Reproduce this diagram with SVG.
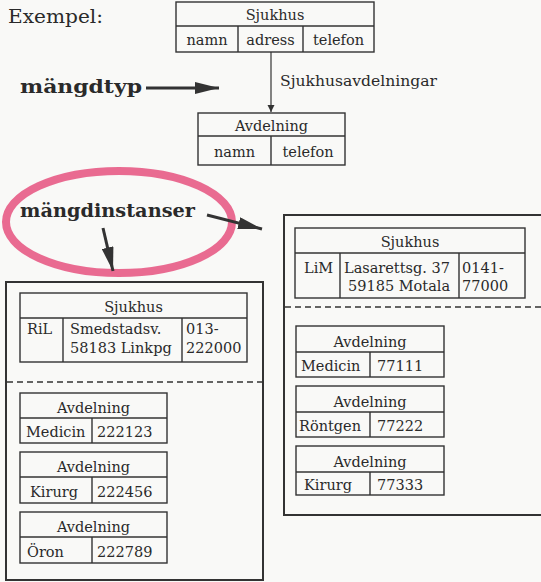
<svg xmlns="http://www.w3.org/2000/svg" width="541" height="582" viewBox="0 0 541 582">
<style>
.t{font-family:"DejaVu Serif","Liberation Serif",serif;font-size:14.5px;fill:#2a2a2a}
.c{text-anchor:middle}
.b{font-family:"DejaVu Serif","Liberation Serif",serif;font-weight:bold;font-size:19px;fill:#2a2a2a}
.box{fill:none;stroke:#333;stroke-width:1.4}
.outer{fill:none;stroke:#333;stroke-width:2}
.dash{stroke:#333;stroke-width:1.4;stroke-dasharray:6 4}
.ln{stroke:#333;stroke-width:1.2;fill:none}
.thick{stroke:#333;stroke-width:3;fill:none}
</style>
<defs>
<marker id="ah" viewBox="0 0 10 10" refX="10" refY="5" markerWidth="7" markerHeight="10" markerUnits="userSpaceOnUse" orient="auto"><path d="M0,0 L10,5 L0,10 z" fill="#333"/></marker>
<marker id="big" viewBox="0 0 10 10" refX="10" refY="5" markerWidth="24" markerHeight="12" markerUnits="userSpaceOnUse" orient="auto" preserveAspectRatio="none"><path d="M0,0 L10,5 L0,10 z" fill="#333"/></marker>
</defs>
<rect width="541" height="582" fill="#f9f9f7"/>

<ellipse cx="119" cy="222" rx="113" ry="51" fill="none" stroke="#e6527f" stroke-width="8" opacity="0.85"/>

<text class="t" x="8" y="23" style="font-size:18px" textLength="95" lengthAdjust="spacingAndGlyphs">Exempel:</text>
<text class="b" x="20" y="93" textLength="122" lengthAdjust="spacingAndGlyphs">mängdtyp</text>
<text class="b" x="20" y="217" textLength="175" lengthAdjust="spacingAndGlyphs">mängdinstanser</text>

<g id="connectors">
<line class="ln" x1="271" y1="52" x2="271" y2="112" marker-end="url(#ah)"/>
<text class="t" x="280" y="86" textLength="157" lengthAdjust="spacingAndGlyphs">Sjukhusavdelningar</text>
<line class="thick" x1="146" y1="88" x2="219" y2="88" marker-end="url(#big)"/>
<line class="thick" x1="207" y1="215" x2="262" y2="229" marker-end="url(#big)"/>
<line class="thick" x1="103" y1="228" x2="113" y2="271" marker-end="url(#big)"/>
</g>

<g id="type-sjukhus">
<rect class="box" x="176" y="2" width="198" height="50"/>
<line class="box" x1="176" y1="26" x2="374" y2="26"/>
<line class="box" x1="238" y1="26" x2="238" y2="52"/>
<line class="box" x1="303" y1="26" x2="303" y2="52"/>
<text class="t c" x="275" y="20">Sjukhus</text>
<text class="t c" x="207" y="45">namn</text>
<text class="t c" x="270.5" y="45">adress</text>
<text class="t c" x="338.5" y="45">telefon</text>
</g>

<g id="type-avdelning">
<rect class="box" x="198" y="113" width="147" height="52"/>
<line class="box" x1="198" y1="136" x2="345" y2="136"/>
<line class="box" x1="271" y1="136" x2="271" y2="165"/>
<text class="t c" x="271.5" y="131">Avdelning</text>
<text class="t c" x="234.5" y="157">namn</text>
<text class="t c" x="308" y="157">telefon</text>
</g>

<g id="instance-ril">
<rect class="outer" x="6" y="282" width="257" height="298"/>
<line class="dash" x1="7" y1="382" x2="262" y2="382"/>
<rect class="box" x="20" y="293" width="227" height="69"/>
<line class="box" x1="20" y1="318" x2="247" y2="318"/>
<line class="box" x1="63" y1="318" x2="63" y2="362"/>
<line class="box" x1="182" y1="318" x2="182" y2="362"/>
<text class="t c" x="133.5" y="312">Sjukhus</text>
<text class="t" x="27" y="334">RiL</text>
<text class="t" x="70" y="334">Smedstadsv.</text>
<text class="t" x="70" y="353">58183 Linkpg</text>
<text class="t" x="186" y="334">013-</text>
<text class="t" x="186" y="353">222000</text>
</g>

<g id="ril-medicin">
<rect class="box" x="20" y="393" width="147" height="50"/>
<line class="box" x1="20" y1="418" x2="167" y2="418"/>
<line class="box" x1="92" y1="418" x2="92" y2="443"/>
<text class="t c" x="93.5" y="413">Avdelning</text>
<text class="t" x="26" y="437">Medicin</text>
<text class="t" x="97" y="437">222123</text>
</g>

<g id="ril-kirurg">
<rect class="box" x="20" y="452" width="147" height="51"/>
<line class="box" x1="20" y1="477" x2="167" y2="477"/>
<line class="box" x1="92" y1="477" x2="92" y2="503"/>
<text class="t c" x="93.5" y="472">Avdelning</text>
<text class="t" x="30" y="497">Kirurg</text>
<text class="t" x="97" y="497">222456</text>
</g>

<g id="ril-oron">
<rect class="box" x="20" y="512" width="147" height="51"/>
<line class="box" x1="20" y1="537" x2="167" y2="537"/>
<line class="box" x1="92" y1="537" x2="92" y2="563"/>
<text class="t c" x="93.5" y="532">Avdelning</text>
<text class="t" x="27" y="557">Öron</text>
<text class="t" x="97" y="557">222789</text>
</g>

<g id="instance-lim">
<rect class="outer" x="284" y="215" width="280" height="300"/>
<line class="dash" x1="285" y1="307" x2="541" y2="307"/>
<rect class="box" x="295" y="228" width="230" height="70"/>
<line class="box" x1="295" y1="253" x2="525" y2="253"/>
<line class="box" x1="340" y1="253" x2="340" y2="298"/>
<line class="box" x1="459" y1="253" x2="459" y2="298"/>
<text class="t c" x="410" y="247">Sjukhus</text>
<text class="t" x="304" y="273">LiM</text>
<text class="t" x="344" y="273">Lasarettsg. 37</text>
<text class="t" x="348" y="291">59185 Motala</text>
<text class="t" x="462" y="273">0141-</text>
<text class="t" x="462" y="291">77000</text>
</g>

<g id="lim-medicin">
<rect class="box" x="296" y="326" width="148" height="51"/>
<line class="box" x1="296" y1="352" x2="444" y2="352"/>
<line class="box" x1="370" y1="352" x2="370" y2="377"/>
<text class="t c" x="370" y="347">Avdelning</text>
<text class="t" x="301" y="371">Medicin</text>
<text class="t" x="377" y="371">77111</text>
</g>

<g id="lim-rontgen">
<rect class="box" x="296" y="386" width="148" height="51"/>
<line class="box" x1="296" y1="412" x2="444" y2="412"/>
<line class="box" x1="370" y1="412" x2="370" y2="437"/>
<text class="t c" x="370" y="407">Avdelning</text>
<text class="t" x="299" y="431">Röntgen</text>
<text class="t" x="377" y="431">77222</text>
</g>

<g id="lim-kirurg">
<rect class="box" x="296" y="446" width="148" height="49"/>
<line class="box" x1="296" y1="472" x2="444" y2="472"/>
<line class="box" x1="370" y1="472" x2="370" y2="495"/>
<text class="t c" x="370" y="467">Avdelning</text>
<text class="t" x="304" y="490">Kirurg</text>
<text class="t" x="377" y="490">77333</text>
</g>
</svg>
